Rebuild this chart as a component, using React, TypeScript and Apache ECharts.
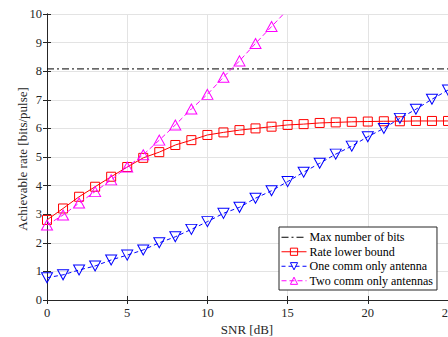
import React, { useEffect, useRef } from "react";
import * as echarts from "echarts";

const snr = [0, 1, 2, 3, 4, 5, 6, 7, 8, 9, 10, 11, 12, 13, 14, 15, 16, 17, 18, 19, 20, 21, 22, 23, 24, 25];
const snrTwo = [0, 1, 2, 3, 4, 5, 6, 7, 8, 9, 10, 11, 12, 13, 14, 15];
const maxBits = 8.08;
const rateLowerBound = [2.8, 3.2, 3.61, 3.96, 4.31, 4.65, 4.97, 5.17, 5.42, 5.59, 5.77, 5.86, 5.94, 6.0, 6.06, 6.12, 6.15, 6.19, 6.21, 6.23, 6.24, 6.25, 6.25, 6.26, 6.26, 6.26];
const oneAntenna = [0.78, 0.88, 1.05, 1.19, 1.4, 1.57, 1.75, 2.0, 2.21, 2.47, 2.74, 3.03, 3.24, 3.56, 3.82, 4.14, 4.47, 4.78, 5.1, 5.38, 5.71, 6.0, 6.35, 6.67, 7.02, 7.34];
const twoAntennas = [2.62, 2.97, 3.39, 3.79, 4.2, 4.65, 5.08, 5.59, 6.12, 6.68, 7.19, 7.79, 8.36, 8.97, 9.56, 10.15];
const seriesNames = ["Max number of bits", "Rate lower bound", "One comm only antenna", "Two comm only antennas"];
const xTitle = "SNR [dB]";
const yTitle = "Achievable rate [bits/pulse]";

const FONT = "Liberation Serif";
const AX = "#262626";

export default function App() {
  const ref = useRef<HTMLDivElement>(null);
  useEffect(() => {
    const chart = echarts.init(ref.current!, null, { renderer: "svg" });
    const axisCommon = {
      axisLine: { show: true, lineStyle: { color: AX, width: 1 } },
      axisTick: { show: true, inside: true, length: 4, lineStyle: { color: AX } },
    };
    chart.setOption({
      animation: false,
      backgroundColor: "#fff",
      textStyle: { fontFamily: FONT },
      grid: { left: 47, top: 14, width: 401, height: 286, containLabel: false, outerBoundsMode: "none" },
      xAxis: [
        {
          type: "value", min: 0, max: 25, interval: 5, position: "bottom",
          ...axisCommon,
          axisLabel: { color: AX, fontFamily: FONT, fontSize: 12.5, margin: 6 },
          splitLine: { show: true, lineStyle: { color: "#e3e3e3", width: 1 } },
        },
        {
          type: "value", min: 0, max: 25, interval: 5, position: "top",
          ...axisCommon,
          axisLabel: { show: false }, splitLine: { show: false },
        },
      ],
      yAxis: [
        {
          type: "value", min: 0, max: 10, interval: 1, position: "left",
          ...axisCommon,
          axisLabel: { color: AX, fontFamily: FONT, fontSize: 12.5, margin: 5 },
          splitLine: { show: true, lineStyle: { color: "#e3e3e3", width: 1 } },
        },
        {
          type: "value", min: 0, max: 10, interval: 1, position: "right",
          ...axisCommon,
          axisLabel: { show: false }, splitLine: { show: false },
        },
      ],
      legend: {
        orient: "vertical",
        left: 279, top: 227,
        width: 160,
        padding: [4, 4, 3, 2],
        itemGap: 2,
        itemWidth: 25,
        itemHeight: 9,
        borderColor: AX, borderWidth: 1, borderRadius: 0,
        backgroundColor: "#fff",
        lineStyle: { width: 1 },
        itemStyle: { borderWidth: 1 },
        textStyle: { color: "#000", fontFamily: FONT, fontSize: 12, padding: [0, 0, 0, -2], lineHeight: 12.5 },
        data: [
          { name: seriesNames[0], itemStyle: { color: "transparent", borderWidth: 0, opacity: 0 } },
          seriesNames[1],
          seriesNames[2],
          seriesNames[3],
        ],
      },
      graphic: [
        { type: "text", x: 247, y: 329, style: { text: xTitle, fontFamily: FONT, fontSize: 13, fill: AX, align: "center", verticalAlign: "middle" } },
        { type: "text", x: 22, y: 159, rotation: Math.PI / 2, style: { text: yTitle, fontFamily: FONT, fontSize: 13, fill: AX, align: "center", verticalAlign: "middle" } },
      ],
      series: [
        {
          name: seriesNames[0], type: "line", symbol: "none",
          data: [[0, maxBits], [25, maxBits]],
          lineStyle: { color: "#000", width: 1, type: [7, 3, 2, 3] },
          itemStyle: { color: "#000" },
          z: 2,
        },
        {
          name: seriesNames[1], type: "line", symbol: "rect", symbolSize: 9,
          data: snr.map((x, i) => [x, rateLowerBound[i]]),
          lineStyle: { color: "#ff0000", width: 1 },
          itemStyle: { color: "transparent", borderColor: "#ff0000", borderWidth: 1 },
          z: 3,
        },
        {
          name: seriesNames[2], type: "line", symbol: "triangle", symbolRotate: 180, symbolSize: [11, 10],
          data: snr.map((x, i) => [x, oneAntenna[i]]),
          lineStyle: { color: "#0000ff", width: 1, type: [4, 3] },
          itemStyle: { color: "transparent", borderColor: "#0000ff", borderWidth: 1 },
          z: 4,
        },
        {
          name: seriesNames[3], type: "line", symbol: "triangle", symbolSize: [11, 10],
          data: snrTwo.map((x, i) => [x, twoAntennas[i]]),
          lineStyle: { color: "#ff00ff", width: 1, type: [5, 3] },
          itemStyle: { color: "transparent", borderColor: "#ff00ff", borderWidth: 1 },
          clip: true,
          z: 5,
        },
      ],
    });
    return () => chart.dispose();
  }, []);
  return <div ref={ref} style={{ position: "fixed", left: 0, top: 0, width: 448, height: 337 }} />;
}
